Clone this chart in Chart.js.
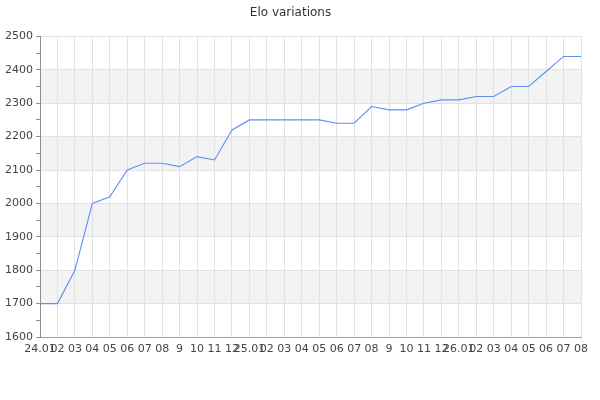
<!DOCTYPE html>
<html>
<head>
<meta charset="utf-8">
<title>Elo variations</title>
<script src="https://cdn.jsdelivr.net/npm/chart.js@4/dist/chart.umd.min.js"></script>
<style>
    html, body { margin: 0; padding: 0; background: #fff; }
    #wrap { width: 600px; height: 400px; }
</style>
</head>
<body>
<div id="wrap"><canvas id="chart"></canvas></div>
<script>
// month labels (year marked at each January)
const months = [
    '24.01', '02', '03', '04', '05', '06', '07', '08', '9', '10', '11', '12',
    '25.01', '02', '03', '04', '05', '06', '07', '08', '9', '10', '11', '12',
    '26.01', '02', '03', '04', '05', '06', '07', '08'
];
// elo value per month
const elo = [
    1700, 1700, 1800, 2000, 2020, 2100, 2120, 2120, 2110, 2140, 2130, 2220,
    2250, 2250, 2250, 2250, 2250, 2240, 2240, 2290, 2280, 2280, 2300, 2310,
    2310, 2320, 2320, 2350, 2350, 2395, 2440, 2440
];
const yMin = 1600;
const yMax = 2500;
// shaded bands [from, to]
const bands = [[1700, 1800], [1900, 2000], [2100, 2200], [2300, 2400]];

const bandPlugin = {
    id: 'bands',
    beforeDraw(chart) {
        const { ctx, chartArea } = chart;
        const y = chart.scales.y;
        ctx.save();
        ctx.fillStyle = '#f3f3f3';
        bands.forEach(b => {
            const top = y.getPixelForValue(b[1]);
            const bottom = y.getPixelForValue(b[0]);
            ctx.fillRect(chartArea.left, top, chartArea.right - chartArea.left, bottom - top);
        });
        ctx.restore();
    }
};

Chart.defaults.font.family = '"DejaVu Sans", sans-serif';
Chart.defaults.font.size = 11;
Chart.defaults.color = '#444';

new Chart(document.getElementById('chart'), {
    type: 'line',
    data: {
        labels: months,
        datasets: [{
            label: 'Elo',
            data: elo,
            borderColor: '#5f8ff0',
            borderWidth: 1.1,
            pointRadius: 0,
            tension: 0,
            fill: false
        }]
    },
    options: {
        responsive: true,
        maintainAspectRatio: false,
        animation: false,
        layout: { padding: { left: 0, right: 19, top: 0, bottom: 0 } },
        plugins: {
            legend: { display: false },
            tooltip: { enabled: false },
            title: {
                display: true,
                text: 'Elo variations',
                color: '#333',
                font: { size: 12, weight: 'normal' },
                padding: { top: 6, bottom: 16 }
            }
        },
        scales: {
            x: {
                offset: false,
                grid: { color: '#e2e2e2', drawTicks: false },
                border: { color: '#a0a0a0' },
                ticks: { autoSkip: false, maxRotation: 0, minRotation: 0, padding: 6 },
                afterFit(scale) { scale.height = 63; }
            },
            y: {
                min: yMin,
                max: yMax,
                grid: {
                    color: c => (c.tick && c.tick.value % 100 === 0) ? '#e2e2e2' : 'rgba(0,0,0,0)',
                    tickColor: '#909090',
                    tickLength: 4
                },
                border: { color: '#909090' },
                ticks: {
                    stepSize: 50,
                    padding: 3,
                    callback: v => (v % 100 === 0 ? v : '')
                },
                afterFit(scale) { scale.width = 40; }
            }
        }
    },
    plugins: [bandPlugin]
});
</script>
</body>
</html>
